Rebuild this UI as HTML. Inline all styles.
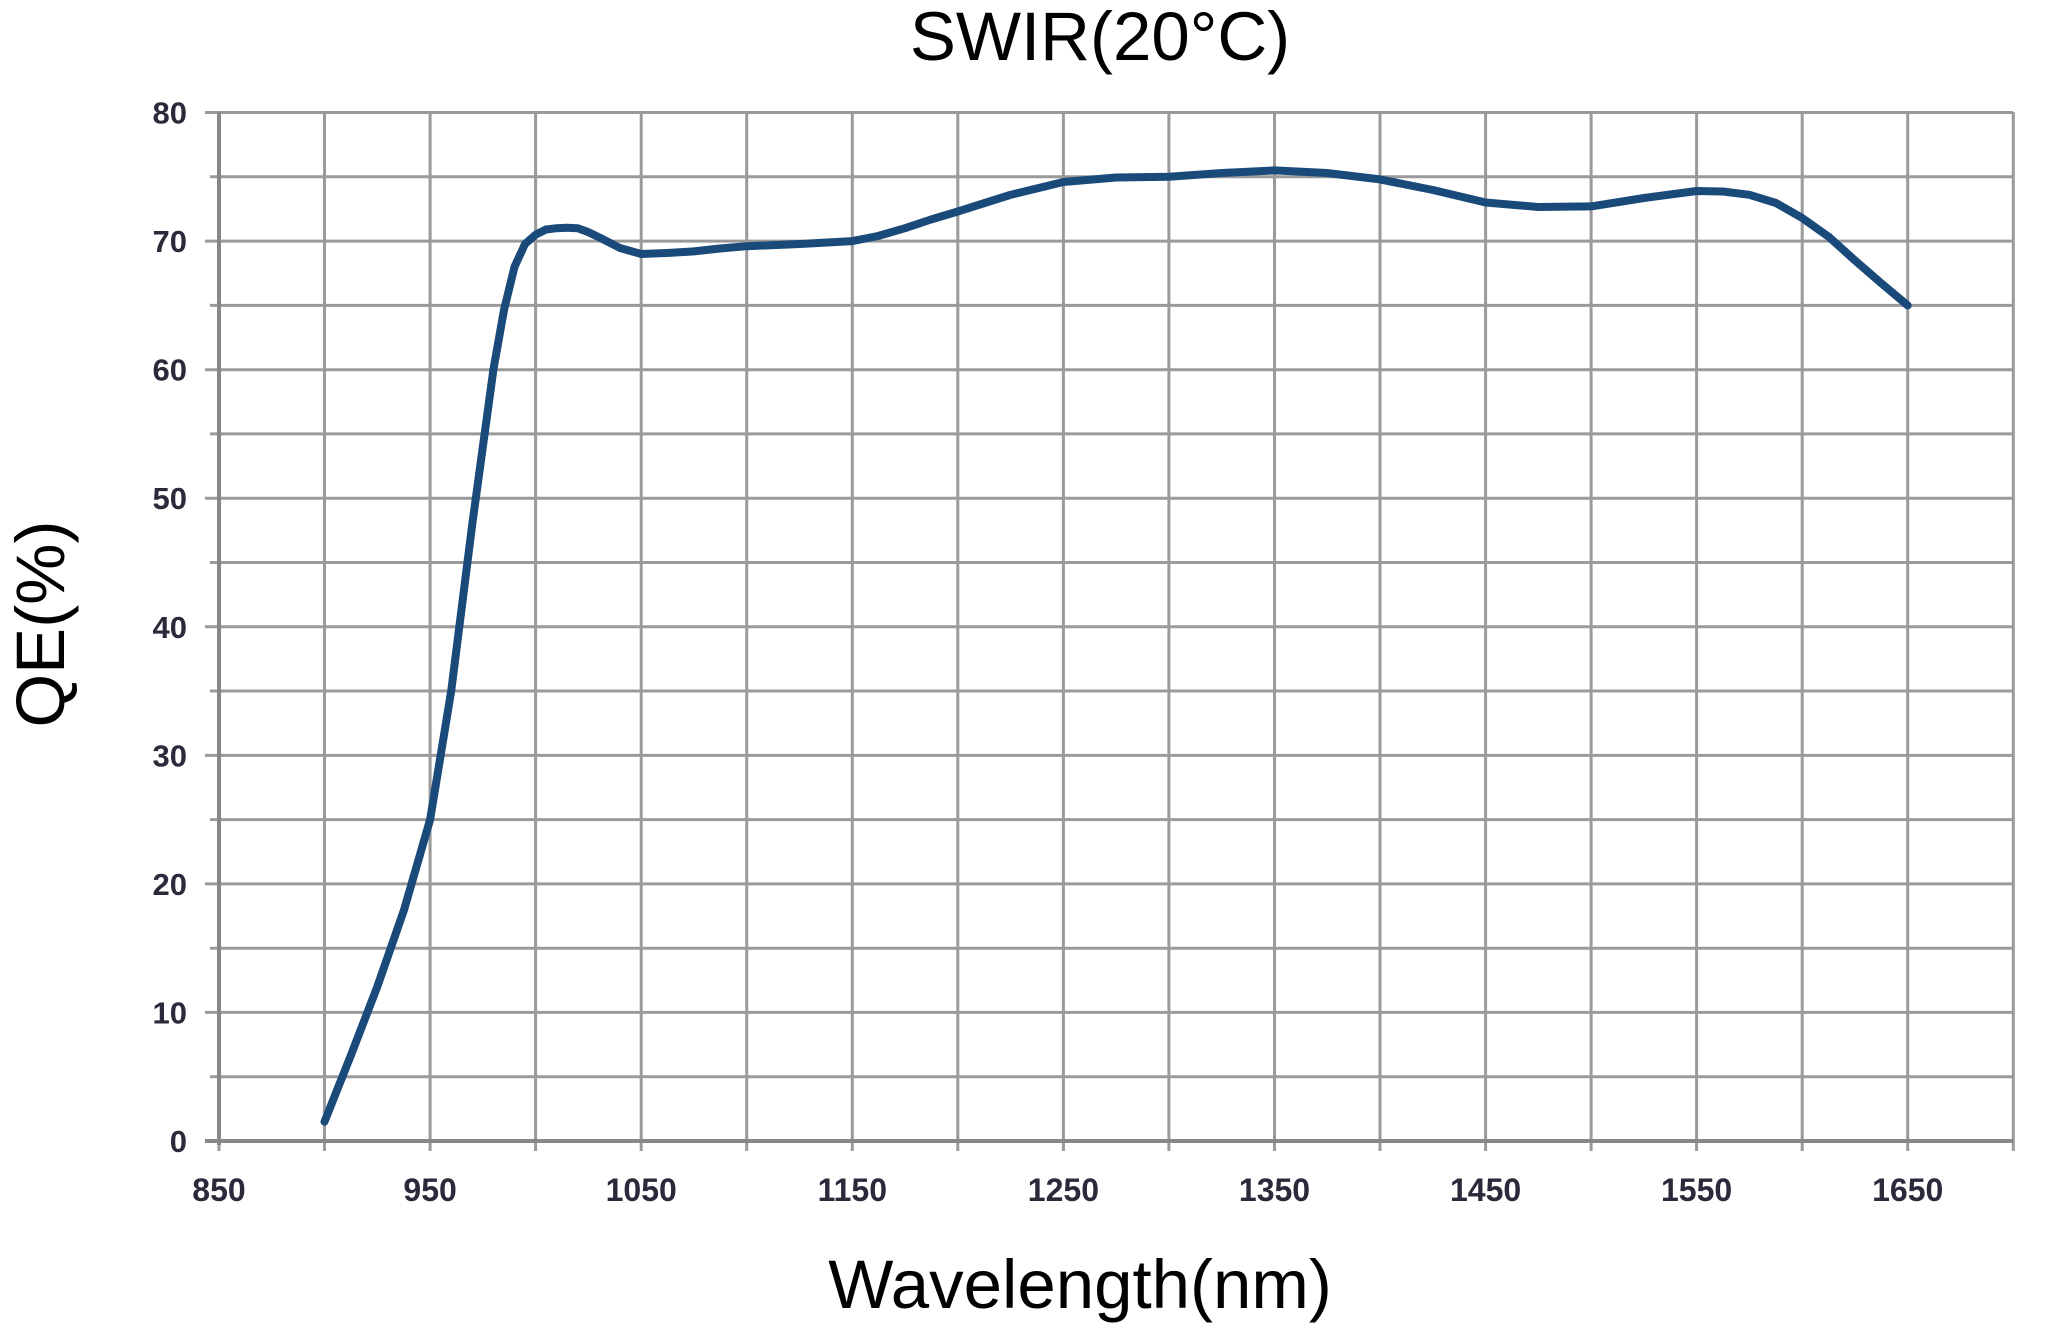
<!DOCTYPE html>
<html><head><meta charset="utf-8"><style>body{margin:0;background:#fff}</style></head><body>
<svg width="2045" height="1334" xmlns="http://www.w3.org/2000/svg" font-family="Liberation Sans, sans-serif">
<rect width="2045" height="1334" fill="#fff"/>
<g stroke="#9a9a9a" stroke-width="3">
<line x1="219" y1="112" x2="219" y2="1151"/><line x1="324.5" y1="112" x2="324.5" y2="1151"/><line x1="430.1" y1="112" x2="430.1" y2="1151"/><line x1="535.6" y1="112" x2="535.6" y2="1151"/><line x1="641.2" y1="112" x2="641.2" y2="1151"/><line x1="746.7" y1="112" x2="746.7" y2="1151"/><line x1="852.3" y1="112" x2="852.3" y2="1151"/><line x1="957.8" y1="112" x2="957.8" y2="1151"/><line x1="1063.4" y1="112" x2="1063.4" y2="1151"/><line x1="1168.9" y1="112" x2="1168.9" y2="1151"/><line x1="1274.5" y1="112" x2="1274.5" y2="1151"/><line x1="1380" y1="112" x2="1380" y2="1151"/><line x1="1485.6" y1="112" x2="1485.6" y2="1151"/><line x1="1591.1" y1="112" x2="1591.1" y2="1151"/><line x1="1696.6" y1="112" x2="1696.6" y2="1151"/><line x1="1802.2" y1="112" x2="1802.2" y2="1151"/><line x1="1907.7" y1="112" x2="1907.7" y2="1151"/><line x1="2013.3" y1="112" x2="2013.3" y2="1151"/>
<line x1="205" y1="1141" x2="2013" y2="1141"/><line x1="210" y1="1076.7" x2="2013" y2="1076.7"/><line x1="205" y1="1012.4" x2="2013" y2="1012.4"/><line x1="210" y1="948.2" x2="2013" y2="948.2"/><line x1="205" y1="883.9" x2="2013" y2="883.9"/><line x1="210" y1="819.6" x2="2013" y2="819.6"/><line x1="205" y1="755.4" x2="2013" y2="755.4"/><line x1="210" y1="691" x2="2013" y2="691"/><line x1="205" y1="626.8" x2="2013" y2="626.8"/><line x1="210" y1="562.5" x2="2013" y2="562.5"/><line x1="205" y1="498.2" x2="2013" y2="498.2"/><line x1="210" y1="433.9" x2="2013" y2="433.9"/><line x1="205" y1="369.7" x2="2013" y2="369.7"/><line x1="210" y1="305.4" x2="2013" y2="305.4"/><line x1="205" y1="241.1" x2="2013" y2="241.1"/><line x1="210" y1="176.8" x2="2013" y2="176.8"/><line x1="205" y1="112.5" x2="2013" y2="112.5"/>
</g>
<line x1="219" y1="112" x2="219" y2="1145" stroke="#888" stroke-width="4"/>
<line x1="205" y1="1141" x2="2013" y2="1141" stroke="#888" stroke-width="4"/>
<g font-size="32" font-weight="bold" fill="#2a2a3a" text-anchor="middle">
<text x="219" y="1201">850</text><text x="430.1" y="1201">950</text><text x="641.2" y="1201">1050</text><text x="852.3" y="1201">1150</text><text x="1063.4" y="1201">1250</text><text x="1274.5" y="1201">1350</text><text x="1485.6" y="1201">1450</text><text x="1696.6" y="1201">1550</text><text x="1907.7" y="1201">1650</text>
</g>
<g font-size="31" font-weight="bold" fill="#2a2a3a" text-anchor="end">
<text x="187" y="1152">0</text><text x="187" y="1023.4">10</text><text x="187" y="894.9">20</text><text x="187" y="766.4">30</text><text x="187" y="637.8">40</text><text x="187" y="509.2">50</text><text x="187" y="380.7">60</text><text x="187" y="252.1">70</text><text x="187" y="123.5">80</text>
</g>
<text x="1100" y="60" font-size="69" text-anchor="middle" fill="#000">SWIR(20°C)</text>
<text x="1080" y="1308" font-size="69" text-anchor="middle" fill="#000">Wavelength(nm)</text>
<text transform="translate(64,624) rotate(-90)" font-size="69" text-anchor="middle" fill="#000">QE(%)</text>
<polyline fill="none" stroke="#1a4a7a" stroke-width="8" stroke-linecap="round" stroke-linejoin="round" points="324.5,1121.7 351,1055 377.3,986.7 404,910 430.1,819.6 451.2,691 472.3,523.9 493.4,369.6 504,310 514.5,266.8 525,244 535.6,234.7 546,229.5 556.7,228.2 567,227.8 577.8,228.2 588,232 598.9,237.2 620,248 641.2,254 667,253 694,251.4 720,248.5 746.7,246.2 800,244 852.3,241.1 878,236 905,228.2 931,219.5 957.8,211.5 1010,195 1063.4,182 1116,177.5 1168.9,176.8 1222,173 1274.5,170.4 1327,173 1380,179.4 1433,190 1485.6,202.5 1538,207 1591.1,206.4 1644,198 1696.6,191 1723,191.5 1749.4,194.8 1776,203 1802.2,218 1829,237 1854.9,260.4 1881,283 1907.7,305.4"/>
</svg>
</body></html>
